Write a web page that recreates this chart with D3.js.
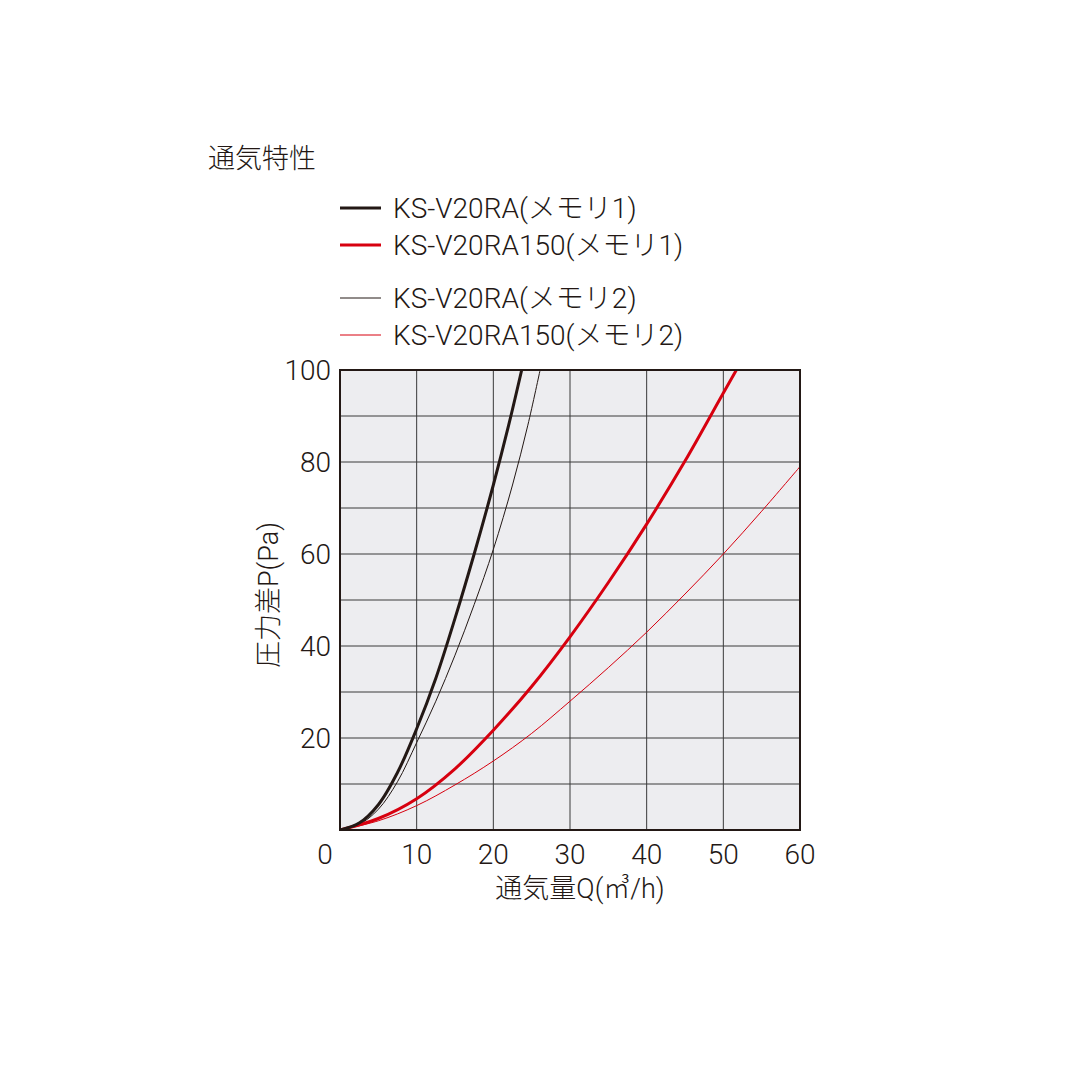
<!DOCTYPE html>
<html><head><meta charset="utf-8">
<script src="https://cdn.jsdelivr.net/npm/d3@7"></script>
<style>body{margin:0;background:#fff}text{font-family:Roboto,"Noto Sans CJK JP","Noto Sans",sans-serif;fill:#231815;font-weight:300}</style>
</head><body>
<svg id="c" width="1080" height="1080"></svg>
<script>
// values: [Q, P]
const blackMemori1 = [[0,0],[2.5,1.5],[5,5.5],[7.5,12.5],[10,22],[12.5,33],[15,46],[17.5,60],[20,75],[22,88],[23.7,100]];
const blackMemori2 = [[0,0],[2.5,1.2],[5,4.5],[7.5,10.5],[10,19],[12.5,28],[15,38],[17.5,49],[20,61],[22.5,75],[24.5,88],[26.1,100]];
const redMemori1 = [[0,0],[5,2.5],[10,6.8],[15,13.3],[20,21.7],[25,31.2],[30,42],[35,53.8],[40,66.5],[45,80.2],[50,95],[51.7,100]];
const redMemori2 = [[0,0],[5,2],[10,5.3],[15,9.8],[20,15],[25,21],[30,28],[35,35.3],[40,43],[45,51.3],[50,60],[55,69.3],[60,79]];
const series = [
  {name:"KS-V20RA(メモリ1)", data:blackMemori1, color:"#231815", w:3},
  {name:"KS-V20RA150(メモリ1)", data:redMemori1, color:"#d7000f", w:3},
  {name:"KS-V20RA(メモリ2)", data:blackMemori2, color:"#231815", w:1},
  {name:"KS-V20RA150(メモリ2)", data:redMemori2, color:"#d7000f", w:1}
];
const xTicks = [0,10,20,30,40,50,60];
const yTicks = [20,40,60,80,100];

const svg = d3.select("#c");
const x = d3.scaleLinear().domain([0,60]).range([340,800]);
const y = d3.scaleLinear().domain([0,100]).range([830,370]);

svg.append("rect").attr("x",340).attr("y",370).attr("width",460).attr("height",460).attr("fill","#ededf0");
svg.append("g").selectAll("line").data(d3.range(10,60,10)).join("line")
  .attr("x1",d=>x(d)).attr("x2",d=>x(d)).attr("y1",370).attr("y2",830).attr("stroke","#3a3a3a").attr("stroke-width",1);
svg.append("g").selectAll("line").data(d3.range(10,100,10)).join("line")
  .attr("y1",d=>y(d)).attr("y2",d=>y(d)).attr("x1",340).attr("x2",800).attr("stroke","#3a3a3a").attr("stroke-width",1);

svg.append("clipPath").attr("id","pc").append("rect").attr("x",340).attr("y",370).attr("width",460).attr("height",460);
const line = d3.line().x(d=>x(d[0])).y(d=>y(d[1])).curve(d3.curveCatmullRom);
svg.append("g").attr("clip-path","url(#pc)").selectAll("path").data(series.slice().reverse()).join("path")
  .attr("d",d=>line(d.data)).attr("fill","none").attr("stroke",d=>d.color).attr("stroke-width",d=>d.w);
svg.append("rect").attr("x",340).attr("y",370).attr("width",460).attr("height",460).attr("fill","none").attr("stroke","#231815").attr("stroke-width",2);

svg.append("g").selectAll("text").data(xTicks).join("text")
  .attr("x",d=>x(d)-(d===0?15:0)).attr("y",864).attr("text-anchor","middle").attr("font-size",28).text(d=>d);
svg.append("g").selectAll("text").data(yTicks).join("text")
  .attr("x",331).attr("y",d=>y(d)+10).attr("text-anchor","end").attr("font-size",28).text(d=>d);

svg.append("text").attr("x",580).attr("y",898).attr("text-anchor","middle").attr("font-size",27).text("通気量Q(㎥/h)");
svg.append("text").attr("transform","translate(278,595) rotate(-90)").attr("text-anchor","middle").attr("font-size",27).text("圧力差P(Pa)");

svg.append("text").attr("x",208).attr("y",168).attr("font-size",27).text("通気特性");
const ly = [208,245,298,335];
const lg = svg.append("g").selectAll("g").data(series).join("g").attr("transform",(d,i)=>`translate(0,${ly[i]})`);
lg.append("line").attr("x1",340).attr("x2",381).attr("stroke",d=>d.color).attr("stroke-width",d=>d.w);
lg.append("text").attr("x",393).attr("y",10).attr("font-size",28).text(d=>d.name);
</script>
</body></html>
